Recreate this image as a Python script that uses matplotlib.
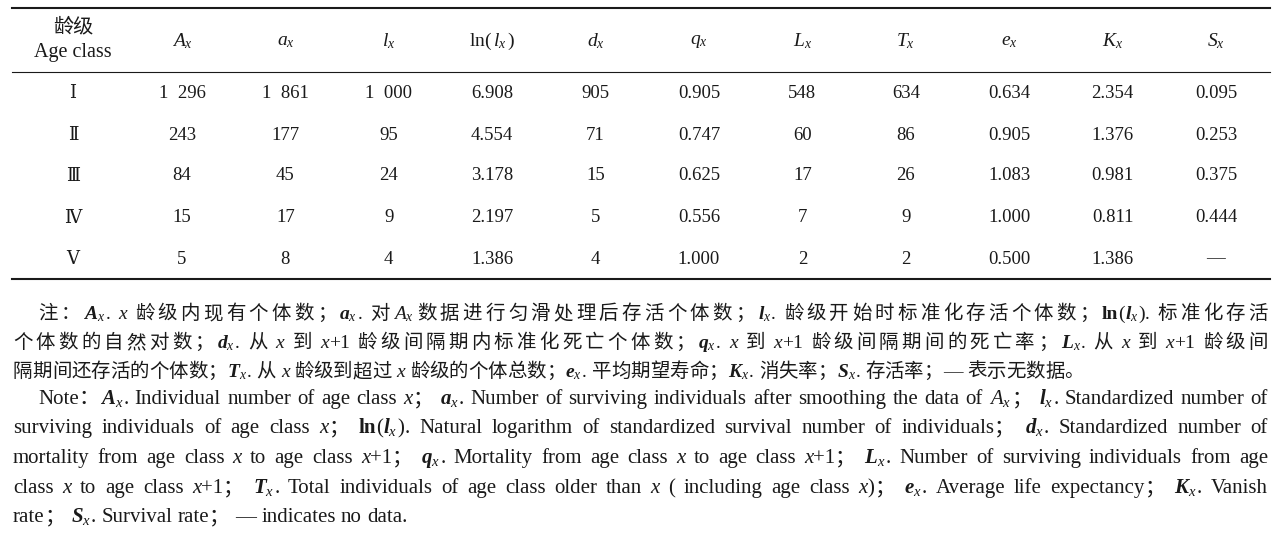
import matplotlib
matplotlib.use('Agg')
import matplotlib.pyplot as plt

plt.rcParams['mathtext.fontset'] = 'custom'
plt.rcParams['mathtext.rm'] = 'Liberation Serif'
plt.rcParams['mathtext.it'] = 'Liberation Serif:italic'
plt.rcParams['mathtext.bf'] = 'Liberation Serif:italic:bold'

FAM = ['Liberation Serif', 'Noto Sans CJK SC']
NUM_FAM = ['DejaVu Serif', 'Noto Sans CJK SC']
INK = '#1a1a1a'
DPI = 100

# ---- table data ----
age_classes = ['Ⅰ', 'Ⅱ', 'Ⅲ', 'Ⅳ', 'Ⅴ']
col_heads = [r'$A_x$', r'$a_x$', r'$l_x$', r'$\mathrm{ln}(\,l_x\,)$', r'$d_x$', r'$q_x$',
             r'$L_x$', r'$T_x$', r'$e_x$', r'$K_x$', r'$S_x$']
A_x = [1296, 243, 84, 15, 5]
a_x = [1861, 177, 45, 17, 8]
l_x = [1000, 95, 24, 9, 4]
ln_lx = [6.908, 4.554, 3.178, 2.197, 1.386]
d_x = [905, 71, 15, 5, 4]
q_x = [0.905, 0.747, 0.625, 0.556, 1.000]
L_x = [548, 60, 17, 7, 2]
T_x = [634, 86, 26, 9, 2]
e_x = [0.634, 0.905, 1.083, 1.000, 0.500]
K_x = [2.354, 1.376, 0.981, 0.811, 1.386]
S_x = [0.095, 0.253, 0.375, 0.444, None]
columns = [A_x, a_x, l_x, ln_lx, d_x, q_x, L_x, T_x, e_x, K_x, S_x]


def V(letter):
    # bold italic variable with italic subscript x
    return ('m', r'$\mathbf{%s}_x$' % letter)


X = ('i', 'x')

# ---- notes (token lists) ----
note_cn = [
    [('t', '注：'), V('A'), ('t', '. '), X, ('t', ' 龄级内现有个体数；'), V('a'), ('t', '. 对'),
     ('m', r'$A_x$'), ('t', '数据进行匀滑处理后存活个体数；'), V('l'), ('t', '. 龄级开始时标准化存活个体数；'),
     ('b', 'ln'), ('t', '('), V('l'), ('t', ')'), ('t', '. 标准化存活')],
    [('t', '个体数的自然对数；'), V('d'), ('t', '. 从 '), X, ('t', ' 到 '), X, ('t', '+1 龄级间隔期内标准化死亡个体数；'),
     V('q'), ('t', '. '), X, ('t', ' 到 '), X, ('t', '+1 龄级间隔期间的死亡率；'), V('L'), ('t', '. 从 '), X,
     ('t', ' 到 '), X, ('t', '+1 龄级间')],
    [('t', '隔期间还存活的个体数；'), V('T'), ('t', '. 从 '), X, ('t', ' 龄级到超过 '), X, ('t', ' 龄级的个体总数；'),
     V('e'), ('t', '. 平均期望寿命；'), V('K'), ('t', '. 消失率；'), V('S'), ('t', '. 存活率；— 表示无数据。')],
]
note_en = [
    [('t', 'Note：'), V('A'), ('t', '. Individual number of age class '), X, ('t', '； '), V('a'),
     ('t', '. Number of surviving individuals after smoothing the data of '), ('m', r'$A_x$'), ('t', '； '),
     V('l'), ('t', '. Standardized number of')],
    [('t', 'surviving individuals of age class '), X, ('t', '； '), ('b', 'ln'), ('t', '('), V('l'), ('t', ')'),
     ('t', '. Natural logarithm of standardized survival number of individuals； '), V('d'),
     ('t', '. Standardized number of')],
    [('t', 'mortality from age class '), X, ('t', ' to age class '), X, ('t', '+1； '), V('q'),
     ('t', '. Mortality from age class '), X, ('t', ' to age class '), X, ('t', '+1； '), V('L'),
     ('t', '. Number of surviving individuals from age')],
    [('t', 'class '), X, ('t', ' to age class '), X, ('t', '+1； '), V('T'),
     ('t', '. Total individuals of age class older than '), X, ('t', ' ( including age class '), X, ('t', ')； '),
     V('e'), ('t', '. Average life expectancy； '), V('K'), ('t', '. Vanish')],
    [('t', 'rate； '), V('S'), ('t', '. Survival rate； — indicates no data.')],
]

STYLE = {
    't': dict(family=FAM),
    'i': dict(family=FAM, style='italic'),
    'b': dict(family=FAM, weight='bold'),
    'm': dict(family=FAM),
}


def fmt(v):
    if v is None:
        return '—'
    if isinstance(v, float):
        return '%.3f' % v
    s = str(v)
    if len(s) > 3:
        s = s[:-3] + '  ' + s[-3:]
    return s


def is_cjk(ch):
    return ord(ch) >= 0x2E80


def split_tokens(tokens):
    '''Break a line into words / single CJK characters, remembering spaces'''
    pieces = []
    space = False
    for kind, s in tokens:
        if kind == 'm':
            pieces.append((s, kind, False, space))
            space = False
            continue
        word = ''
        wsp = False
        for ch in s:
            if ch == ' ' or is_cjk(ch):
                if word:
                    pieces.append((word, kind, False, wsp))
                    word = ''
                if ch == ' ':
                    space = True
                else:
                    pieces.append((ch, kind, True, space))
                    space = False
            else:
                if not word:
                    wsp = space
                    space = False
                word += ch
        if word:
            pieces.append((word, kind, False, wsp))
    return pieces


def layout(ax, rend, tokens, y, size, mode):
    '''Make the text pieces of one line; returns artists, widths, glue, stretch flags'''
    em = size * DPI / 72.0
    pieces = split_tokens(tokens)
    arts, widths = [], []
    for text, kind, cjk, sp in pieces:
        t = ax.text(0, y, text, ha='left', va='baseline', fontsize=size,
                    color=INK, **STYLE[kind])
        arts.append(t)
        widths.append(em if cjk else t.get_window_extent(rend).width)
    glue, stretch = [], []
    for i in range(1, len(pieces)):
        sp = pieces[i][3]
        glue.append(0.25 * em if sp else 0.0)
        if mode == 'space':
            stretch.append(sp)
        elif mode == 'all':
            stretch.append(sp or pieces[i][2] or pieces[i - 1][2])
        else:
            stretch.append(False)
    return arts, widths, glue, stretch


def fit_size(ax, rend, lines, x0s, x1, base):
    '''Largest size <= base at which every line fits its width'''
    size = base
    for tok, x0 in zip(lines, x0s):
        arts, widths, glue, stretch = layout(ax, rend, tok, 0, base, None)
        natural = sum(widths) + sum(glue)
        for t in arts:
            t.remove()
        if natural > (x1 - x0) * 0.985:
            size = min(size, base * (x1 - x0) * 0.985 / natural)
    return size


def put_line(ax, rend, tokens, x0, x1, y, size, mode):
    '''Place a line of mixed text from x0, justified to x1 when mode is set'''
    arts, widths, glue, stretch = layout(ax, rend, tokens, y, size, mode)
    natural = sum(widths) + sum(glue)
    n = sum(stretch)
    extra = (x1 - x0 - natural) / n if (mode and n) else 0.0
    x = x0
    for i, t in enumerate(arts):
        if i > 0:
            x += glue[i - 1] + (extra if stretch[i - 1] else 0.0)
        t.set_x(x)
        x += widths[i]


fig = plt.figure(figsize=(12.82, 5.35), dpi=DPI)
ax = fig.add_axes([0, 0, 1, 1])
ax.set_xlim(0, 1282)
ax.set_ylim(535, 0)
ax.axis('off')
rend = fig.canvas.get_renderer()

# rules
left, right = 12, 1270
ax.plot([left, right], [8, 8], color=INK, lw=1.5)
ax.plot([left, right], [72, 72], color=INK, lw=0.8)
ax.plot([left, right], [279, 279], color=INK, lw=1.5)

# header
col_x = [182 + 103.4 * i for i in range(len(columns))]
ax.text(73, 28, '龄级', ha='center', va='center', fontsize=14.5, family=FAM, color=INK)
ax.text(73, 53, 'Age class', ha='center', va='center', fontsize=14.5, family=FAM, color=INK)
for cx, h in zip(col_x, col_heads):
    ax.text(cx, 41, h, ha='center', va='center', fontsize=14, family=FAM, color=INK)

# body
row_y = [93, 135, 176, 218, 259]
for ry, age in zip(row_y, age_classes):
    ax.text(73, ry, age, ha='center', va='center', fontsize=13, family=NUM_FAM, color=INK)
for cx, col in zip(col_x, columns):
    for ry, v in zip(row_y, col):
        ax.text(cx, ry, fmt(v), ha='center', va='center', fontsize=13.5, family=FAM, color=INK)

# notes
x_end = 1268
cn_x0 = [38] + [13] * (len(note_cn) - 1)
cn_size = fit_size(ax, rend, note_cn[:-1], cn_x0[:-1], x_end, 14)
cn_y = [319, 348, 377]
for i, (tok, y) in enumerate(zip(note_cn, cn_y)):
    mode = 'all' if i < len(note_cn) - 1 else None
    put_line(ax, rend, tok, cn_x0[i], x_end, y, cn_size, mode)

en_x0 = [38] + [13] * (len(note_en) - 1)
en_size = fit_size(ax, rend, note_en[:-1], en_x0[:-1], x_end, 15)
en_y = [404, 433, 463, 493, 522]
for i, (tok, y) in enumerate(zip(note_en, en_y)):
    mode = 'space' if i < len(note_en) - 1 else None
    put_line(ax, rend, tok, en_x0[i], x_end, y, en_size, mode)

fig.savefig('out.png', dpi=DPI)
